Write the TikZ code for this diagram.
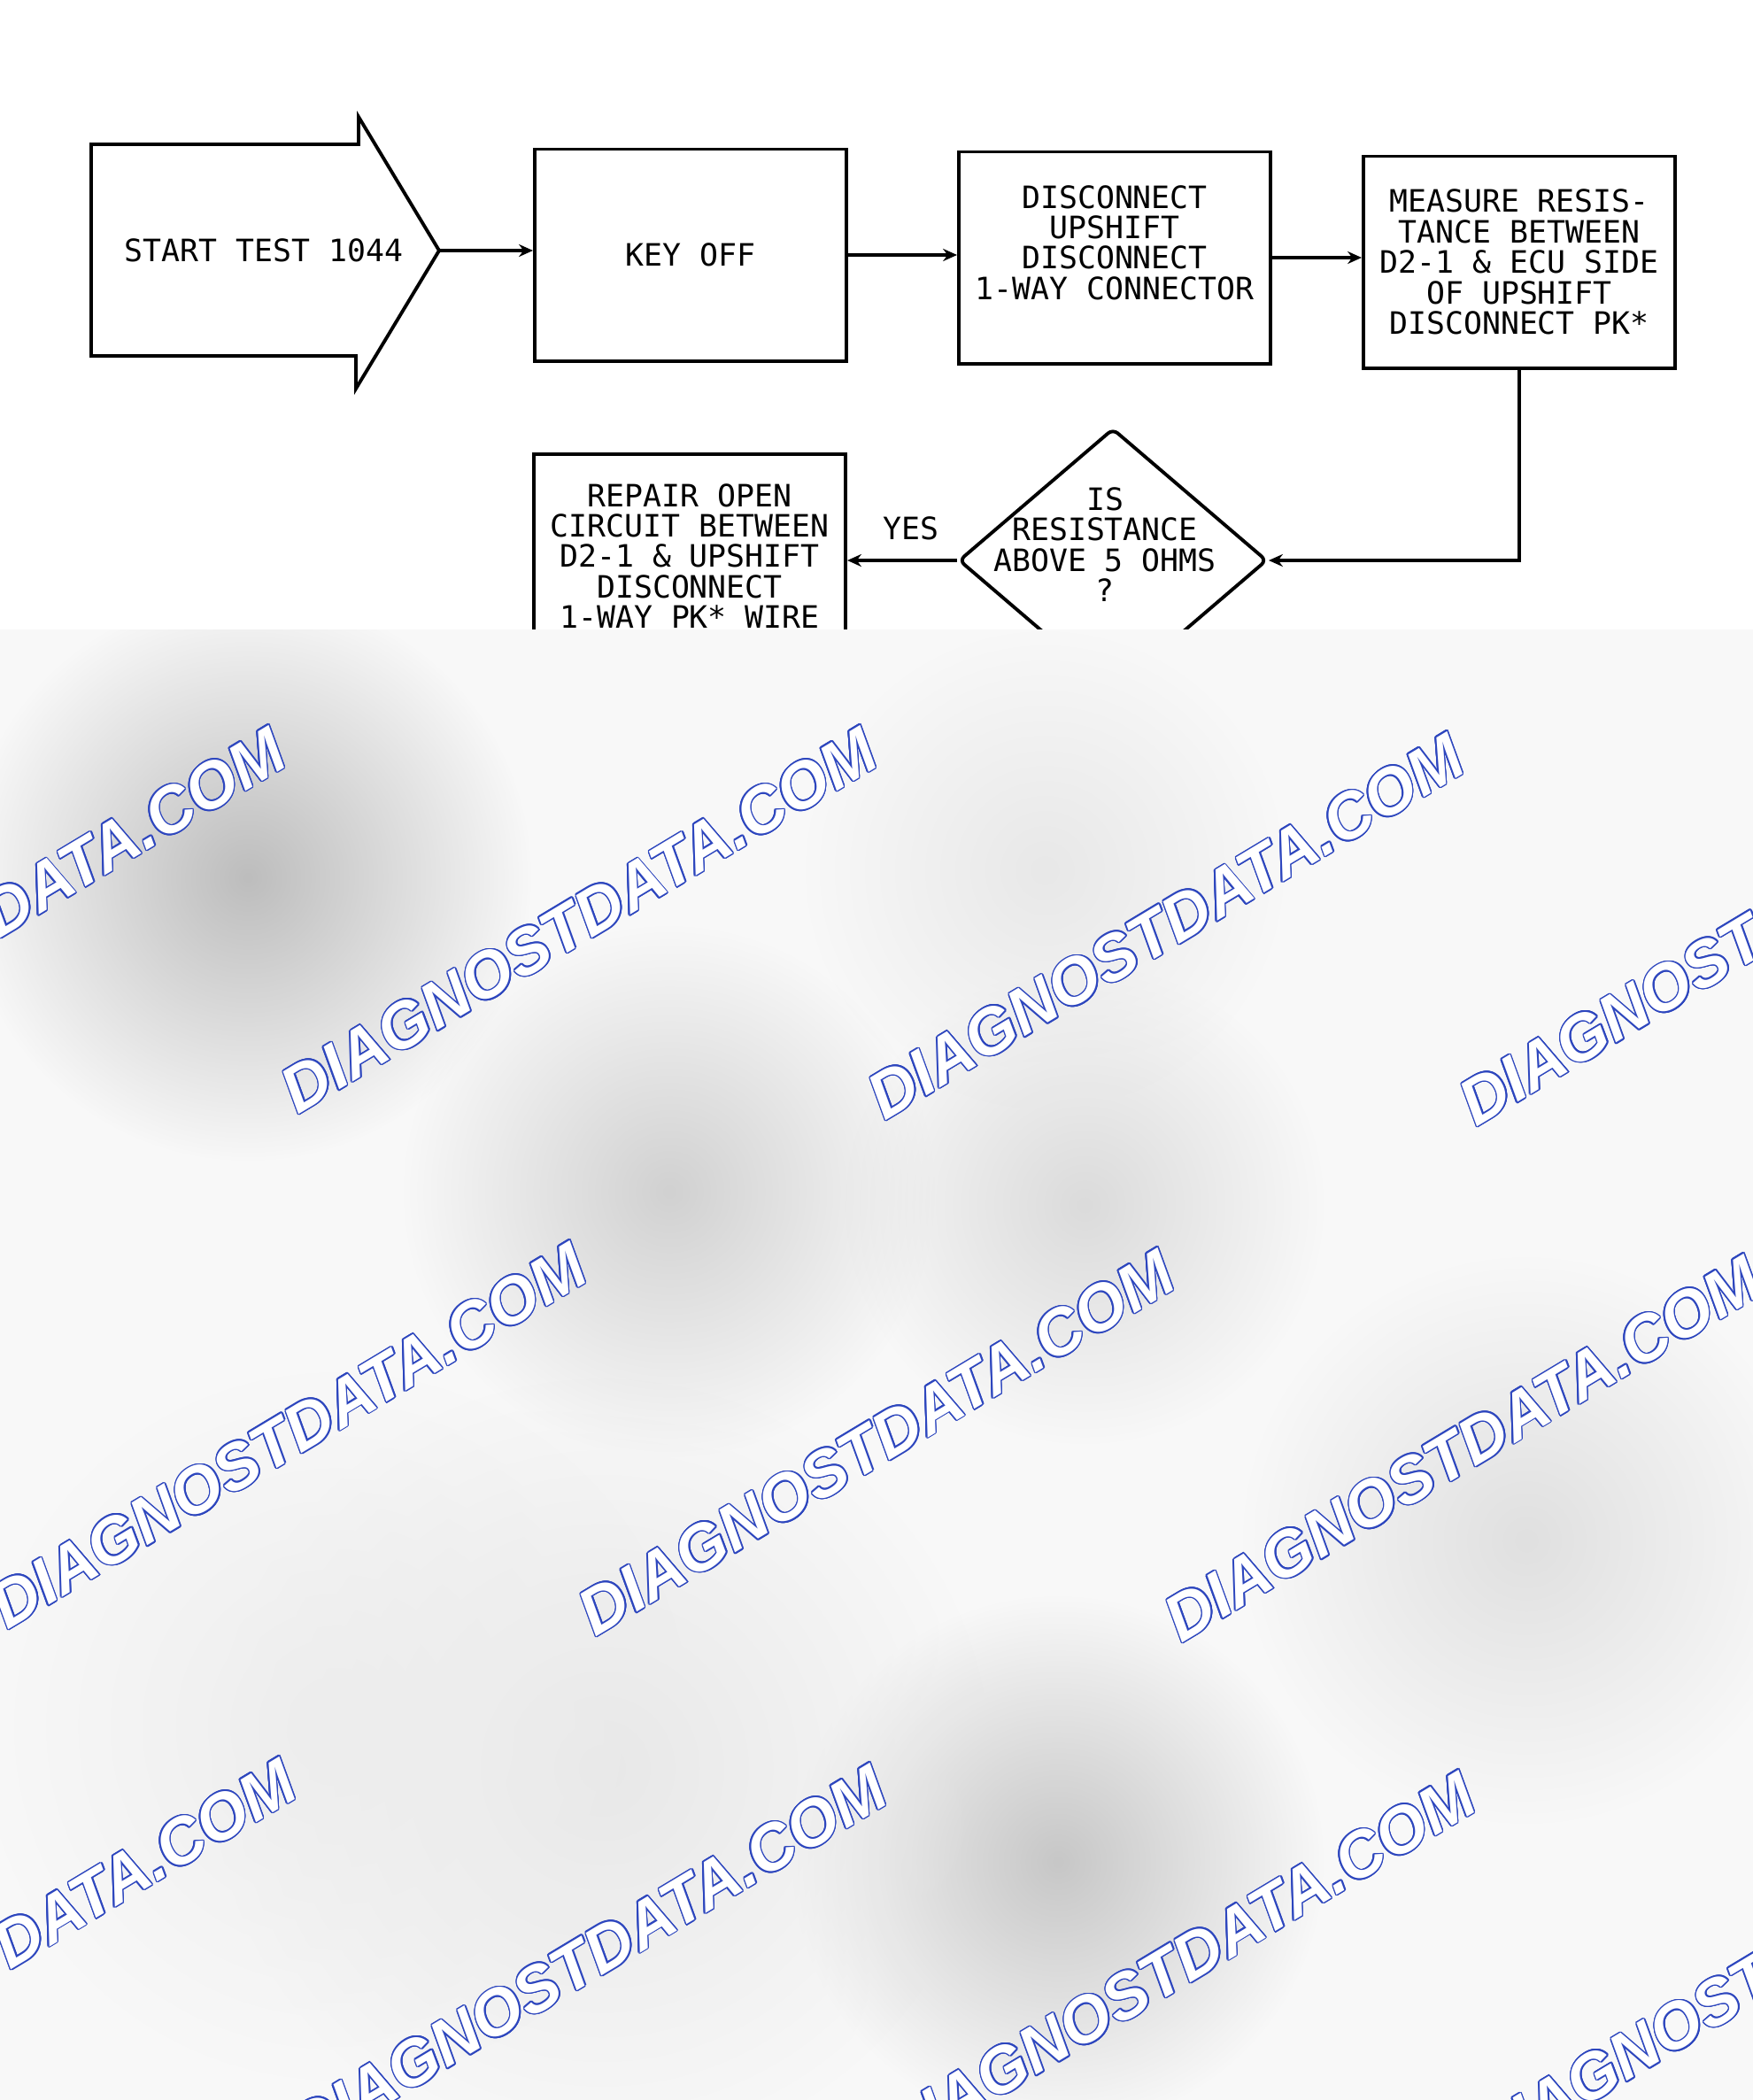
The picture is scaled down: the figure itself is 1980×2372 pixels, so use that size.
\documentclass[tikz,border=0pt]{standalone}
\usepackage{fontspec}
\setmonofont{DejaVu Sans Mono}
\newfontfamily\wmfont{Liberation Sans}
\usepackage{contour}
\usetikzlibrary{arrows.meta,shapes.geometric,fadings}
\definecolor{wmblue}{RGB}{45,70,190}
\definecolor{veil}{RGB}{248,248,248}
\tikzfading[name=blobfade, inner color=transparent!0, outer color=transparent!100]
\contourlength{0.45pt}

\begin{document}
\begin{tikzpicture}[x=0.01cm, y=-0.01cm,
    every node/.style={font=\ttfamily\fontsize{9.9pt}{9.8pt}\selectfont, align=center},
    stepbox/.style={draw, line width=1.1pt, minimum width=3.52cm, minimum height=2.39cm, inner sep=0pt},
    decision/.style={draw, diamond, line width=1.1pt, minimum width=3.48cm, minimum height=2.98cm, inner sep=0pt, rounded corners=2pt},
    flow/.style={line width=1pt, -{Stealth[length=4.5pt,width=4pt]}},
    watermark/.style={font=\wmfont\bfseries\itshape\fontsize{20.8pt}{22pt}\selectfont, rotate=31}]
        \useasboundingbox (0,0) rectangle (1980,2372);
        % --- Start ---
        \draw[line width=1.1pt] (103,163) -- (405,163) -- (405,132) -- (496,283)
            -- (402,439) -- (402,402) -- (103,402) -- cycle;
        \coordinate (starttip) at (496,283);
        \node (start) at (298,283) {START TEST 1044};
        % --- Top row ---
        \node[stepbox] (keyoff) at (780,288) {KEY OFF};
        \node[stepbox] (disc) at (1259,291) {DISCONNECT\\UPSHIFT\\DISCONNECT\\1-WAY CONNECTOR\\[0pt]};
        \node[stepbox] (measure) at (1716,296) {MEASURE RESIS-\\TANCE BETWEEN\\D2-1 \& ECU SIDE\\OF UPSHIFT\\DISCONNECT PK*};
        \draw[flow] (starttip) -- (starttip -| keyoff.west);
        \draw[flow] (keyoff.east) -- (keyoff.east -| disc.west);
        \draw[flow] (disc.east) -- (disc.east -| measure.west);
        % --- Second row ---
        \node[decision] (check) at (1257,633) {};
        \node[xshift=-0.09cm, yshift=0.18cm] (checktext) at (check) {IS\\RESISTANCE\\ABOVE 5 OHMS\\?};
        \node[stepbox, minimum height=2.30cm] (repair) at (779,628) {REPAIR OPEN\\CIRCUIT BETWEEN\\D2-1 \& UPSHIFT\\DISCONNECT\\1-WAY PK* WIRE};
        \draw[flow] (measure.south) |- (check.east);
        \draw[flow] (check.west) -- (check.west -| repair.east);
        \node (yes) at (1029,597) {YES};
        % --- Veil ---
        \fill[veil] (0,711) rectangle (1980,2372);
        \begin{scope}
            \clip (0,711) rectangle (1980,2372);
            \foreach \bx/\by/\br/\bc in {280/991/320/26, 756/1346/300/18, 1225/1361/270/14,
                1180/983/270/9, 1724/1740/320/12, 1195/2103/300/22, 680/1997/440/9, 380/1950/400/7}
                \fill[black!\bc, path fading=blobfade] (\bx,\by) circle (\br);
        \end{scope}
        \foreach \wx/\wy [count=\i] in {-14/1040, 654/1040, 1317/1047, 1985/1054,
            -340/1614, 326/1622, 990/1630, 1652/1637,
            -2/2205, 665/2212, 1330/2220, 1997/2227}
            \node[watermark] (wm\i) at (\wx,\wy) {\contour{wmblue}{\textcolor{white}{DIAGNOSTDATA.COM}}};
    \end{tikzpicture}
\end{document}
